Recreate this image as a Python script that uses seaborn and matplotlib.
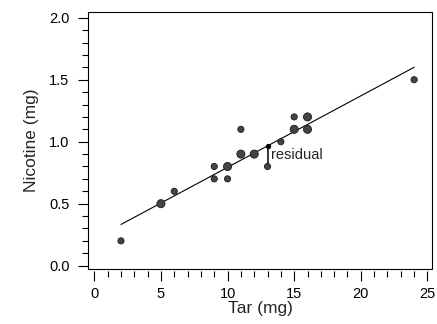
import matplotlib
matplotlib.use("Agg")
import matplotlib.pyplot as plt
from matplotlib.patches import Rectangle
from matplotlib.ticker import MultipleLocator
import seaborn as sns
import numpy as np
import pandas as pd

# tar and nicotine content (mg)
tar = [2, 5, 6, 9, 9, 10, 10, 11, 11, 12, 13, 14, 15, 15, 16, 16, 24]
nicotine = [0.2, 0.5, 0.6, 0.8, 0.7, 0.8, 0.7, 1.1, 0.9, 0.9, 0.8, 1.0, 1.2, 1.1, 1.2, 1.1, 1.5]
# points drawn bigger (overlapping brands)
count = [1, 2, 1, 1, 1, 2, 1, 1, 2, 2, 1, 1, 1, 2, 2, 2, 1]

residual_tar = 13
residual_label = "residual"

df = pd.DataFrame({"Tar": tar, "Nicotine": nicotine, "count": count})

sns.set_style("ticks")
plt.rcParams['font.family'] = ['Liberation Sans', 'DejaVu Sans']

fig = plt.figure(figsize=(4.37, 3.24), dpi=100)
ax = fig.add_axes([0.2021, 0.1698, 0.9897 - 0.2021, 0.962 - 0.1698])

sns.regplot(x="Tar", y="Nicotine", data=df, ci=None, scatter=False,
            line_kws={"color": "black", "lw": 0.8}, ax=ax)
sns.scatterplot(x="Tar", y="Nicotine", data=df, size="count", sizes={1: 20, 2: 34},
                color="#444444", edgecolor="#1a1a1a", linewidth=0.6, legend=False,
                ax=ax, zorder=3)

# residual at tar = 13
slope, intercept = np.polyfit(tar, nicotine, 1)
fitted = intercept + slope * residual_tar
observed = nicotine[tar.index(residual_tar)]
ax.plot([residual_tar, residual_tar], [observed, fitted], color="black", lw=1.1, zorder=2)
ax.scatter([residual_tar], [fitted], s=8, color="black", zorder=4)
ax.text(residual_tar + 0.27, (observed + fitted) / 2 + 0.01, residual_label,
        fontsize=10.5, va="center", ha="left")

ax.set_xlim(-0.45, 25.38)
ax.set_ylim(-0.027, 2.044)
ax.xaxis.set_major_locator(MultipleLocator(5))
ax.xaxis.set_minor_locator(MultipleLocator(1))
ax.yaxis.set_major_locator(MultipleLocator(0.5))
ax.yaxis.set_minor_locator(MultipleLocator(0.1))
ax.yaxis.set_major_formatter(matplotlib.ticker.FormatStrFormatter('%.1f'))

for s in ["top", "right", "left"]:
    ax.spines[s].set_visible(False)
ax.spines["bottom"].set_position(("outward", 1.5))
ax.spines["bottom"].set_color("none")
ax.add_patch(Rectangle((0, 0), 1, 1, transform=ax.transAxes, fill=False,
                       ec="black", lw=0.8, clip_on=False, zorder=5))

ax.tick_params(axis="both", which="major", length=7.5, width=0.8, color="black",
               labelsize=10.5, labelcolor="black")
ax.tick_params(axis="both", which="minor", length=4, width=0.8, color="black")
ax.tick_params(axis="y", which="major", pad=6)
ax.tick_params(axis="x", which="major", pad=4)

ax.set_xlabel("Tar (mg)", fontsize=12.5, labelpad=0)
ax.set_ylabel("Nicotine (mg)", fontsize=12.5, labelpad=7)

fig.savefig("out.png", dpi=100)
